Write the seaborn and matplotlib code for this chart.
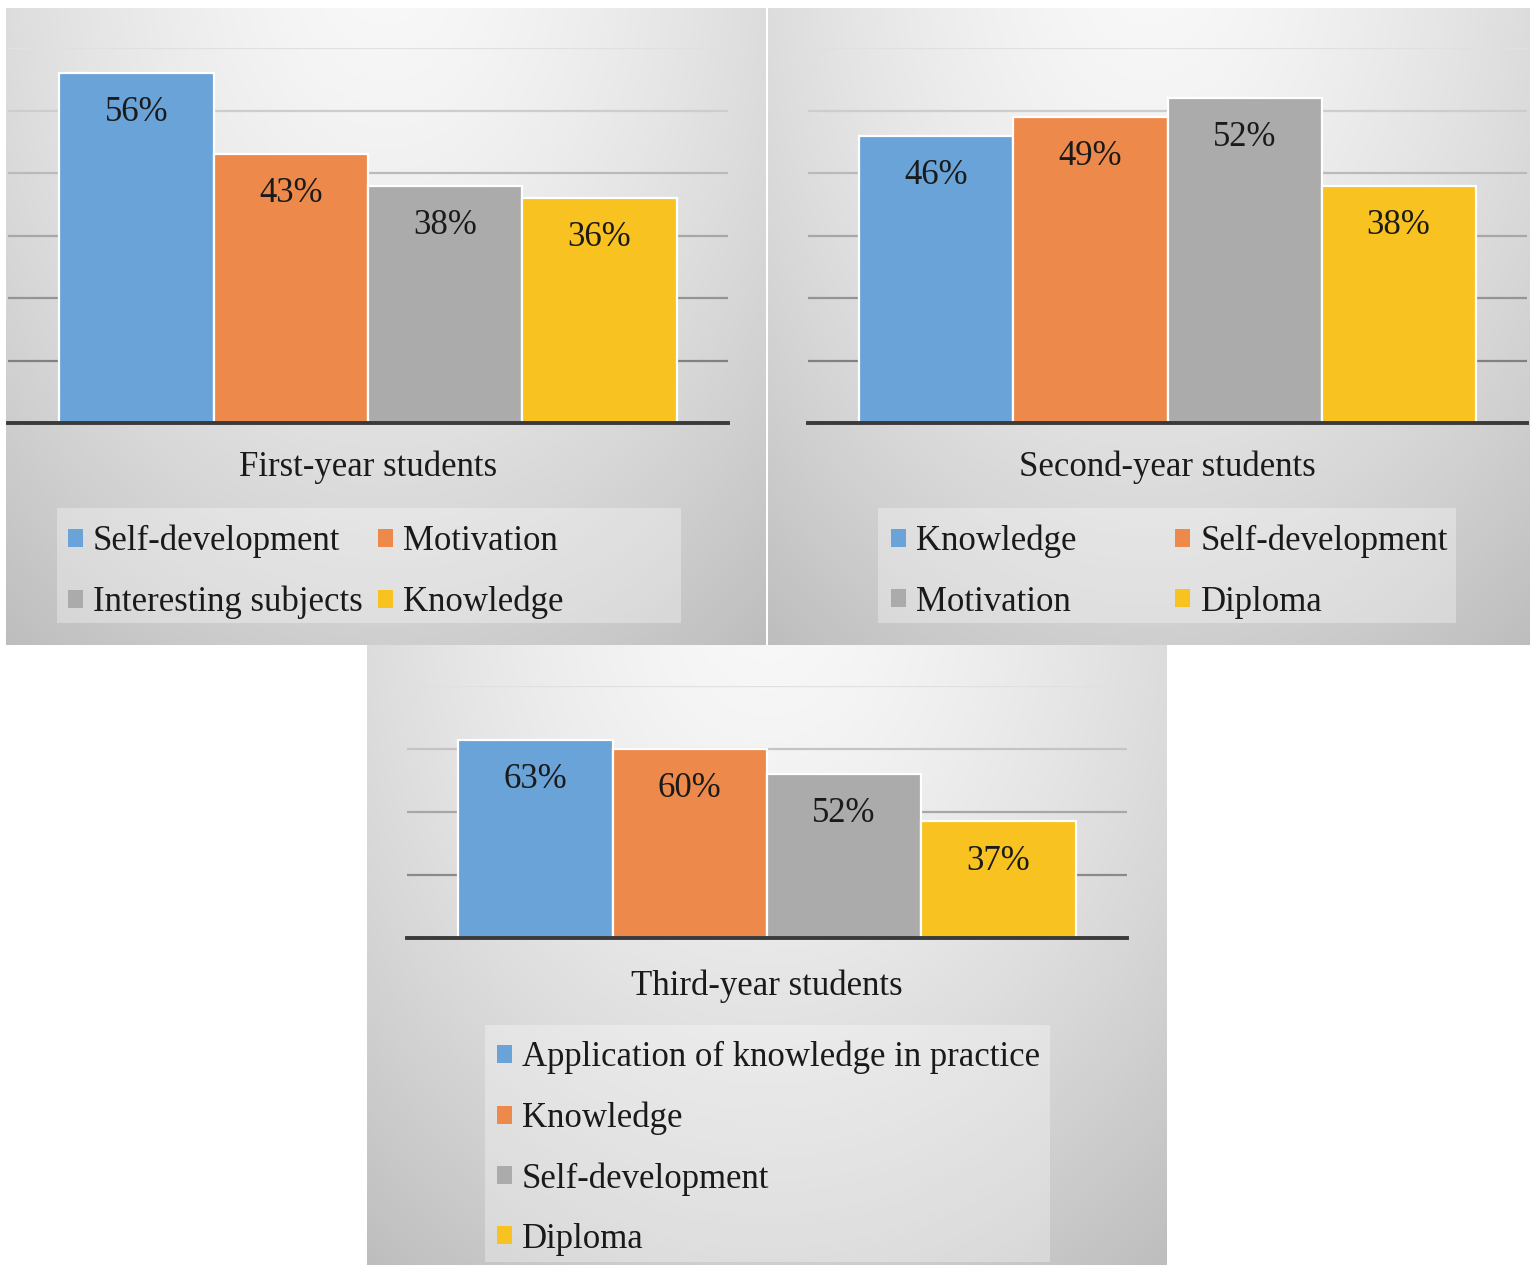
import numpy as np
import pandas as pd
import matplotlib
matplotlib.use("Agg")
import matplotlib.pyplot as plt
import seaborn as sns
from matplotlib.patches import Rectangle

# ---------------- data ----------------
groups = ["First-year students", "Second-year students", "Third-year students"]

series_first = ["Self-development", "Motivation", "Interesting subjects", "Knowledge"]
values_first = [56, 43, 38, 36]

series_second = ["Knowledge", "Self-development", "Motivation", "Diploma"]
values_second = [46, 49, 52, 38]

series_third = ["Application of knowledge in practice", "Knowledge",
                "Self-development", "Diploma"]
values_third = [63, 60, 52, 37]

bar_colors = ["#6aa3d8", "#ed8a4b", "#ababab", "#f8c220"]

# ---------------- style ----------------
sns.set_theme(style="white")
plt.rcParams['font.family'] = ['Liberation Serif', 'DejaVu Serif']
TEXT = "#1a1a1a"
FS = 25

W, H = 1536, 1271
fig = plt.figure(figsize=(W / 100, H / 100), dpi=100)
fig.patch.set_facecolor("white")


def fbox(l, t, r, b):
    return [l / W, 1 - b / H, (r - l) / W, (b - t) / H]


def gradient_bg(box):
    bg = fig.add_axes(fbox(*box), zorder=0)
    ny, nx = 300, 300
    u = np.linspace(0, 1, nx)[None, :]
    v = np.linspace(0, 1, ny)[:, None]
    d = np.sqrt(((u - 0.5) / 0.75) ** 2 + ((v + 0.1) / 1.25) ** 2)
    c = np.clip(0.975 - 0.2 * d ** 1.5, 0, 1)
    img = np.dstack([c, c, c])
    bg.imshow(img, extent=(0, 1, 0, 1), aspect="auto", origin="upper")
    bg.set_axis_off()
    return bg


def panel(bg_box, ax_box, leg_box, group, series, values, ymax, ystep,
          leg_anchor, ncol, colspace, label_pad):
    gradient_bg(bg_box)
    # legend backdrop
    l, t, r, b = leg_box
    fig.patches.append(Rectangle((l / W, 1 - b / H), (r - l) / W, (b - t) / H,
                                 transform=fig.transFigure, facecolor="white",
                                 alpha=0.32, edgecolor="none", zorder=1))
    ax = fig.add_axes(fbox(*ax_box), zorder=2)
    ax.patch.set_alpha(0)
    df = pd.DataFrame({"group": [group] * len(series), "series": series,
                       "value": values})
    sns.barplot(data=df, x="group", y="value", hue="series", hue_order=series,
                palette=bar_colors, width=0.857, edgecolor="white",
                linewidth=1.6, saturation=1, ax=ax)
    ax.set_xlim(-0.5, 0.5)
    ax.set_ylim(0, ymax)
    ticks = list(range(0, ymax + 1, ystep))
    ax.set_yticks(ticks)
    ax.set_axisbelow(True)
    ax.yaxis.grid(True, linewidth=1.6)
    n = len(ticks)
    for i, gl in enumerate(ax.yaxis.get_gridlines()):
        frac = i / max(n - 1, 1)
        g = 0.43 + 0.45 * frac
        gl.set_color((g, g, g))
    ax.tick_params(left=False, labelleft=False, bottom=False, pad=label_pad,
                   labelsize=FS, labelcolor=TEXT)
    ax.set_xlabel("")
    ax.set_ylabel("")
    for s in ["left", "right", "top"]:
        ax.spines[s].set_visible(False)
    ax.spines["bottom"].set_color("#3a3a3a")
    ax.spines["bottom"].set_linewidth(2.8)

    for cont, v in zip(ax.containers, values):
        for p in cont.patches:
            ax.annotate(f"{v}%", (p.get_x() + p.get_width() / 2, p.get_height()),
                        xytext=(0, -28.5), textcoords="offset points",
                        ha="center", va="center", fontsize=FS, color=TEXT)

    # legend, filled row by row like the original
    old = ax.get_legend()
    handles = list(old.legend_handles)
    labels = [t.get_text() for t in old.get_texts()]
    old.remove()
    nrow = int(np.ceil(len(labels) / ncol))
    order = [r * ncol + c for c in range(ncol) for r in range(nrow)
             if r * ncol + c < len(labels)]
    leg = ax.legend([handles[i] for i in order], [labels[i] for i in order],
                    loc="upper left", bbox_to_anchor=leg_anchor,
                    bbox_transform=fig.transFigure, ncol=ncol, frameon=False,
                    fontsize=FS, handlelength=0.42, handleheight=0.42,
                    handletextpad=0.3, columnspacing=colspace,
                    labelspacing=0.78, borderpad=0, borderaxespad=0)
    for t in leg.get_texts():
        t.set_color(TEXT)
    for h in leg.legend_handles:
        h.set_edgecolor("none")
    return ax


panel(bg_box=(6, 8, 766, 645), ax_box=(8, 48, 728, 423),
      leg_box=(57, 508, 681, 623), group=groups[0],
      series=series_first, values=values_first, ymax=60, ystep=10,
      leg_anchor=(68 / W, 1 - 525 / H), ncol=2, colspace=0.45, label_pad=14)

panel(bg_box=(768, 8, 1530, 645), ax_box=(808, 48, 1527, 423),
      leg_box=(878, 508, 1456, 623), group=groups[1],
      series=series_second, values=values_second, ymax=60, ystep=10,
      leg_anchor=(891 / W, 1 - 525 / H), ncol=2, colspace=2.85, label_pad=14)

panel(bg_box=(367, 645, 1167, 1265), ax_box=(407, 686, 1127, 938),
      leg_box=(485, 1025, 1050, 1262), group=groups[2],
      series=series_third, values=values_third, ymax=80, ystep=20,
      leg_anchor=(497 / W, 1 - 1041 / H), ncol=1, colspace=1.0, label_pad=17)

fig.savefig("out.png", dpi=100, facecolor=fig.get_facecolor())
